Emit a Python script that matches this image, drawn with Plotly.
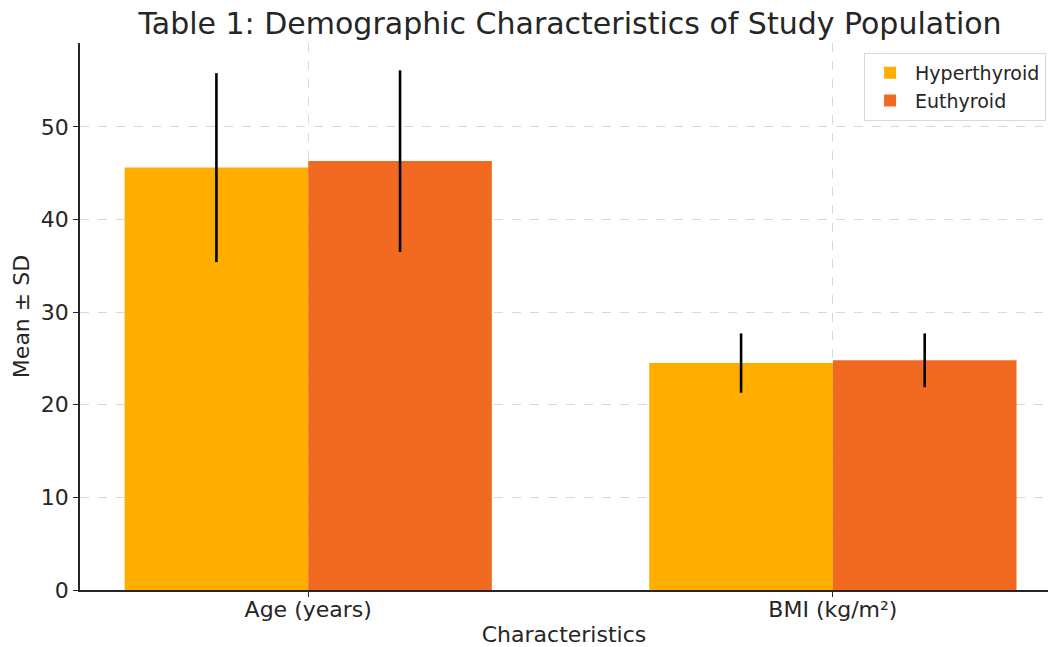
import plotly.graph_objects as go

categories = ["Age (years)", "BMI (kg/m²)"]
cat_pos = [0, 1]
hyper_mean = [45.6, 24.5]
hyper_sd = [10.2, 3.2]
eu_mean = [46.3, 24.8]
eu_sd = [9.8, 2.9]

FONT = "DejaVu Sans"

fig = go.Figure()
fig.add_trace(go.Bar(
    x=cat_pos, y=hyper_mean, name="Hyperthyroid", marker_color="#FFAE00",
    marker_line_width=0,
    error_y=dict(type="data", array=hyper_sd, visible=True, color="black", thickness=2.6, width=0),
))
fig.add_trace(go.Bar(
    x=cat_pos, y=eu_mean, name="Euthyroid", marker_color="#F26A21",
    marker_line_width=0,
    error_y=dict(type="data", array=eu_sd, visible=True, color="black", thickness=2.6, width=0),
))

fig.update_layout(
    width=1048, height=647,
    margin=dict(l=80, r=0, t=43, b=57),
    paper_bgcolor="white", plot_bgcolor="white",
    barmode="group", bargap=0.3, bargroupgap=0,
    font=dict(family=FONT, size=22, color="#262626"),
    title=dict(text="Table 1: Demographic Characteristics of Study Population",
               x=570/1048, xanchor="center", y=1 - 23/647, yanchor="middle",
               font=dict(size=30, color="#262626", family=FONT)),
    legend=dict(x=0.998, xanchor="right", y=0.982, yanchor="top",
                bordercolor="#d9d9d9", borderwidth=1, bgcolor="rgba(255,255,255,0.8)",
                font=dict(size=19, family=FONT), traceorder="normal", itemwidth=40),
    showlegend=True,
)
fig.update_xaxes(
    range=[-0.435, 1.41], tickvals=cat_pos, ticktext=categories,
    showline=True, linecolor="#262626", linewidth=1.5,
    ticks="outside", ticklen=5, tickcolor="#262626",
    showgrid=True, gridcolor="#d9d9d9", griddash="dash", gridwidth=1,
    zeroline=False, automargin=False, ticklabelstandoff=-6,
    title=dict(text="Characteristics", font=dict(size=22), standoff=10),
    tickfont=dict(size=22),
)
fig.update_yaxes(
    range=[0, 59.05], tickvals=[0, 10, 20, 30, 40, 50],
    showline=True, linecolor="#262626", linewidth=1.5,
    ticks="outside", ticklen=5, tickcolor="#262626",
    showgrid=True, gridcolor="#d9d9d9", griddash="dash", gridwidth=1,
    zeroline=False, automargin=False,
    title=dict(text="Mean ± SD", font=dict(size=22), standoff=5),
    tickfont=dict(size=22),
)

fig.write_html("out.html", config={"displayModeBar": False},
               post_script="document.body.style.margin='0';document.body.style.overflow='hidden';")
